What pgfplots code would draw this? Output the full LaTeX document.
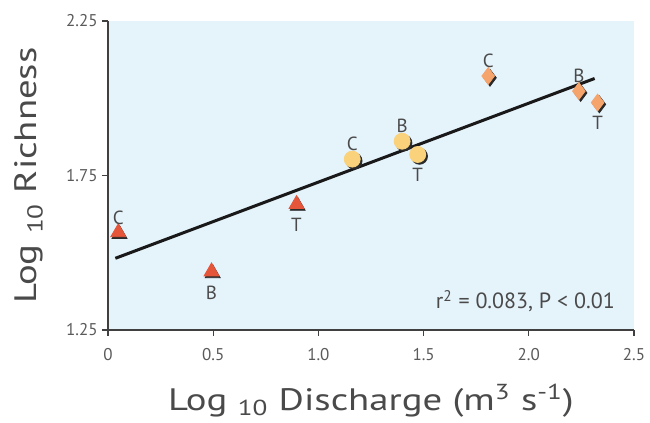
\documentclass[border=0pt]{standalone}
\usepackage{fontspec}
\setmainfont{PT Sans}
\newfontfamily\widefont[FakeStretch=1.25]{PT Sans}
\usepackage{pgfplots}
\pgfplotsset{compat=1.18}

\definecolor{bgblue}{HTML}{E5F3FB}
\definecolor{tri}{HTML}{E5553A}
\definecolor{circ}{HTML}{FAD27C}
\definecolor{diam}{HTML}{F5A46C}
\definecolor{shad}{HTML}{2A2A2A}
\definecolor{lab}{HTML}{4A4A4A}
\definecolor{tick}{HTML}{5A5A5A}

\begin{document}
\begin{tikzpicture}
\begin{axis}[
  name=ax, at={(0,0)}, anchor=south west,
  scale only axis, width=263pt, height=154.5pt,
  xmin=0, xmax=2.5, ymin=1.25, ymax=2.25,
  axis lines=left, axis line style={draw=black!75, line width=0.6pt, -},
  axis background/.style={fill=bgblue},
  xtick={0,0.5,1,1.5,2,2.5},
  xticklabels={0,0.5,1.0,1.5,2.0,2.5},
  ytick={1.25,1.75,2.25},
  yticklabels={1.25,1.75,2.25},
  tick align=outside, major tick length=3pt,
  tick style={draw=black!75, line width=0.6pt},
  ticklabel style={font=\fontsize{8.5}{10}\selectfont, text=tick},
  xticklabel style={yshift=-2.5pt},
  yticklabel style={inner sep=1pt, xshift=-1pt},
  xlabel={Log \textsubscript{10} Discharge (m\textsuperscript{3} s\textsuperscript{-1})},
  ylabel={Log \textsubscript{10} Richness},
  label style={font=\widefont\fontsize{15.5}{18}\selectfont, text=lab},
  xlabel style={at={(axis description cs:0.5,-0.259)}, anchor=base},
  ylabel style={at={(axis description cs:-0.135,0.5)}, anchor=base},
  clip=false,
]
% regression line
\addplot[no marks, color=black!90, line width=1.5pt] coordinates {(0.035,1.482) (2.313,2.064)};
% shadows
\addplot[only marks, mark=triangle*, mark size=4.3pt, color=shad,
  every mark/.append style={xshift=0.6pt,yshift=-0.9pt}] coordinates {(0.049,1.566) (0.492,1.439) (0.896,1.657)};
\addplot[only marks, mark=*, mark size=4pt, color=shad,
  every mark/.append style={xshift=0.9pt,yshift=-0.9pt}] coordinates {(1.161,1.803) (1.398,1.861) (1.472,1.818)};
\addplot[only marks, mark=diamond*, mark size=4.2pt, color=shad,
  every mark/.append style={xshift=0.9pt,yshift=-0.9pt}] coordinates {(1.807,2.072) (2.238,2.023) (2.327,1.986)};
% markers
\addplot[only marks, mark=triangle*, mark size=4.3pt, color=tri] coordinates {(0.049,1.566) (0.492,1.439) (0.896,1.657)};
\addplot[only marks, mark=*, mark size=4pt, color=circ] coordinates {(1.161,1.803) (1.398,1.861) (1.472,1.818)};
\addplot[only marks, mark=diamond*, mark size=4.2pt, color=diam] coordinates {(1.807,2.072) (2.238,2.023) (2.327,1.986)};
% site labels
\addplot[only marks, mark=none, nodes near coords, point meta=explicit symbolic,
  every node near coord/.append style={font=\fontsize{9.5}{11}\selectfont, text=lab, anchor=south, yshift=0.5pt}]
  coordinates {(0.049,1.566)[C] (1.161,1.803)[C] (1.398,1.861)[B] (1.807,2.072)[C] (2.238,2.023)[B]};
\addplot[only marks, mark=none, nodes near coords, point meta=explicit symbolic,
  every node near coord/.append style={font=\fontsize{9.5}{11}\selectfont, text=lab, anchor=north, yshift=-3.5pt}]
  coordinates {(0.492,1.439)[B] (0.896,1.657)[T] (1.472,1.818)[T] (2.327,1.986)[T]};
\node[anchor=base east, font=\fontsize{11}{13}\selectfont, text=lab] at (axis description cs:0.977,0.068)
  {r\textsuperscript{2} = 0.083, P < 0.01};
\end{axis}
\pgfresetboundingbox
\path[use as bounding box] (-54pt,-46.5pt) rectangle (271pt,165pt);
\end{tikzpicture}
\end{document}
